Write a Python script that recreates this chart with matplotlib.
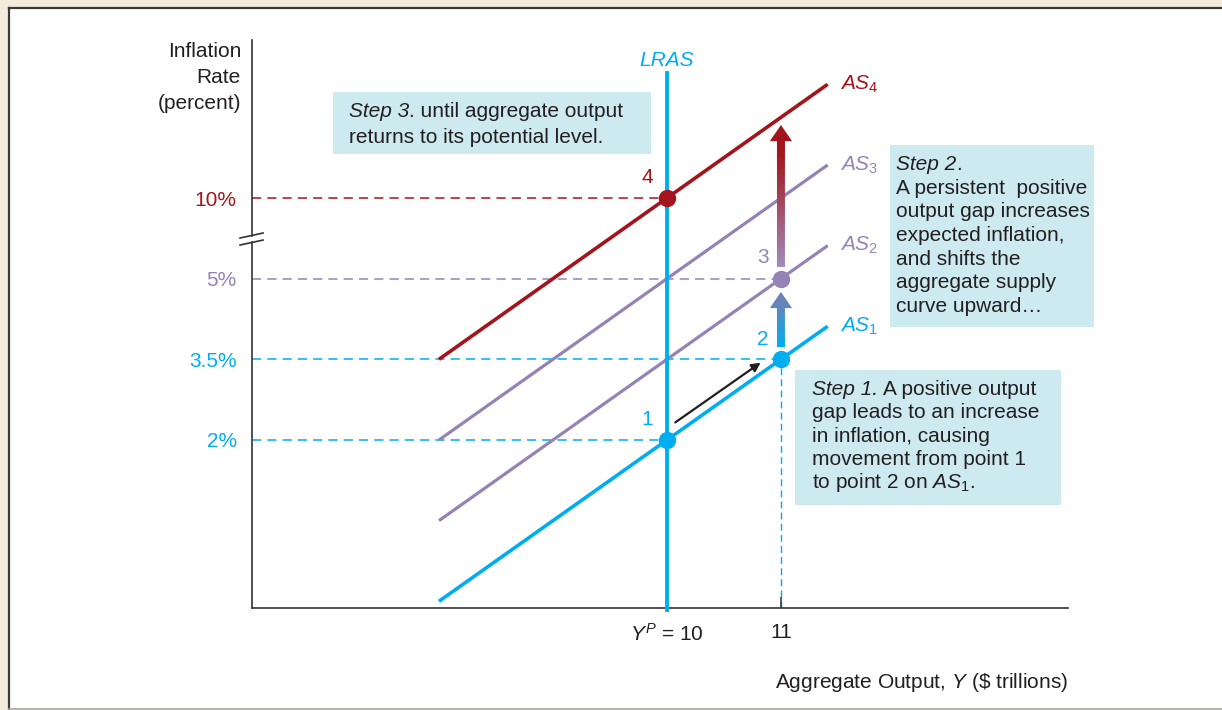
import numpy as np
import matplotlib
matplotlib.use('Agg')
import matplotlib.pyplot as plt
from matplotlib.patches import FancyArrow, Rectangle
from matplotlib.lines import Line2D
from matplotlib.colors import LinearSegmentedColormap

plt.rcParams['font.family'] = ['Liberation Sans', 'DejaVu Sans']
plt.rcParams['mathtext.fontset'] = 'custom'
plt.rcParams['mathtext.rm'] = 'Liberation Sans'
plt.rcParams['mathtext.it'] = 'Liberation Sans:italic'
plt.rcParams['mathtext.sf'] = 'Liberation Sans'

# inflation levels sit on a broken axis: positions 0..3 carry these labels
infl_labels = ['2%', '3.5%', '5%', '10%']
infl_pos = [0, 1, 2, 3]

# aggregate supply curves: level at Y = 10, slope 1 step per $1 trillion
as_names = [r'$AS_1$', r'$AS_2$', r'$AS_3$', r'$AS_4$']
as_level_at_yp = [0, 1, 2, 3]
as_x = np.array([8.0, 11.41])

y_potential = 10
y_gap = 11

# equilibrium points 1-4
pt_x = [10, 11, 11, 10]
pt_y = [0, 1, 2, 3]
pt_names = ['1', '2', '3', '4']

CYAN = '#00aeef'
PURPLE = '#9583b5'
RED = '#a3151c'
TXT = '#231f20'
BOX = '#cdeaf1'
FS = 15

W, H = 1222, 710
fig = plt.figure(figsize=(W / 100, H / 100), dpi=100)
fig.patch.set_facecolor('#f3ebdc')
renderer = fig.canvas.get_renderer()


def px(x, y):
    return x / W, 1 - y / H


# white panel with its borders
fig.add_artist(Rectangle(px(9, 709), 1, (709 - 8) / H, transform=fig.transFigure,
                         facecolor='white', edgecolor='none', zorder=-5))
fig.add_artist(Line2D([8.5 / W, 8.5 / W], [1 - 709 / H, 1 - 7.5 / H], color='#3a3a3a', lw=1.6, zorder=-4))
fig.add_artist(Line2D([8.5 / W, 1], [1 - 7.5 / H, 1 - 7.5 / H], color='#3a3a3a', lw=1.6, zorder=-4))
fig.add_artist(Line2D([8.5 / W, 1], [1 - 709 / H, 1 - 709 / H], color='#a8a8a8', lw=1.2, zorder=-4))

ax = fig.add_axes([252 / W, (H - 608) / H, 816 / W, 568 / H])
ax.set_facecolor('none')
xmin, xmax = 6.36, 13.518
ymin, ymax = -2.083, 4.959
ax.set_xlim(xmin, xmax)
ax.set_ylim(ymin, ymax)

for s in ['top', 'right', 'left']:
    ax.spines[s].set_visible(False)
ax.spines['bottom'].set_color('#333333')
ax.spines['bottom'].set_linewidth(1.2)

# left axis with break marks between 5% and 10%
ax.plot([xmin, xmin], [ymin, 2.46], color='#333333', lw=1.2, clip_on=False)
ax.plot([xmin, xmin], [2.53, ymax], color='#333333', lw=1.2, clip_on=False)
ax.plot([xmin - 0.105, xmin + 0.097], [2.504, 2.566], color='#333333', lw=1.2, clip_on=False)
ax.plot([xmin - 0.105, xmin + 0.097], [2.417, 2.479], color='#333333', lw=1.2, clip_on=False)

# dashed guide lines
dash = (0, (6, 4))
ax.plot([xmin, y_potential], [3, 3], color=RED, lw=1.1, ls=dash, zorder=1)
ax.plot([xmin, y_gap], [2, 2], color=PURPLE, lw=1.1, ls=dash, zorder=1)
ax.plot([xmin, y_gap], [1, 1], color=CYAN, lw=1.1, ls=dash, zorder=1)
ax.plot([xmin, y_potential], [0, 0], color=CYAN, lw=1.1, ls=dash, zorder=1)
ax.plot([y_gap, y_gap], [ymin, 1], color=CYAN, lw=1.0, ls=(0, (5, 3)), zorder=1)

# LRAS
ax.plot([y_potential, y_potential], [ymin - 0.03, 4.55], color=CYAN, lw=2.8, zorder=3, clip_on=False)
ax.text(y_potential, 4.71, 'LRAS', color=CYAN, fontsize=FS, style='italic', ha='center', va='center')

# AS curves
as_colors = [CYAN, PURPLE, PURPLE, RED]
for name, lev, c in zip(as_names, as_level_at_yp, as_colors):
    yy = lev + (as_x - y_potential)
    ax.plot(as_x, yy, color=c, lw=2.6 if c != PURPLE else 2.3, zorder=2, solid_capstyle='butt')
    ax.text(as_x[-1] + 0.11, yy[-1], name, color=c, fontsize=FS, ha='left', va='center')

# points and numbers
pt_colors = [CYAN, CYAN, PURPLE, RED]
pt_offsets = [(-0.17, 0.26), (-0.16, 0.25), (-0.16, 0.26), (-0.17, 0.25)]
for x, y, n, c, (dx, dy) in zip(pt_x, pt_y, pt_names, pt_colors, pt_offsets):
    ax.plot(x, y, 'o', color=c, ms=11.5, zorder=6)
    ax.text(x + dx, y + dy, n, color=c, fontsize=FS, ha='center', va='center')

# movement 1 -> 2
ax.annotate('', xy=(10.842, 0.979), xytext=(10.053, 0.198),
            arrowprops=dict(arrowstyle='-|>', color=TXT, lw=1.6, mutation_scale=13), zorder=5)


def gradient_arrow(x, y0, y1, c0, c1):
    arr = FancyArrow(x, y0, 0, y1 - y0, width=0.07, head_width=0.195, head_length=0.2,
                     length_includes_head=True, facecolor='none', edgecolor='none')
    ax.add_patch(arr)
    cmap = LinearSegmentedColormap.from_list('g', [(0, c0), (0.8, c1), (1, c1)])
    grad = np.linspace(0, 1, 256).reshape(-1, 1)
    im = ax.imshow(grad, extent=[x - 0.12, x + 0.12, y0, y1], origin='lower',
                   cmap=cmap, aspect='auto', zorder=4)
    im.set_clip_path(arr)


gradient_arrow(y_gap, 1.153, 1.835, CYAN, '#6a82b8')
gradient_arrow(y_gap, 2.145, 3.905, '#a28cba', RED)
ax.set_xlim(xmin, xmax)
ax.set_ylim(ymin, ymax)

# ticks
ax.set_xticks([y_potential, y_gap])
ax.set_xticklabels([r'$Y^P$ = 10', '11'], fontsize=FS, color=TXT)
ax.tick_params(axis='x', direction='in', length=8, width=1.1, color='#333333', pad=11)
ax.set_yticks(infl_pos)
ax.set_yticklabels(infl_labels, fontsize=FS)
for lab, c in zip(ax.get_yticklabels(), [CYAN, CYAN, PURPLE, RED]):
    lab.set_color(c)
ax.tick_params(axis='y', length=0, pad=11)

# axis titles
for t, yb in zip(['Inflation', 'Rate', '(percent)'], [56.7, 83, 109.3]):
    fig.text(*px(241, yb), t, fontsize=FS, color=TXT, ha='right', va='baseline')
fig.text(*px(1068, 688), r'Aggregate Output, $Y$ (\$ trillions)', fontsize=FS, color=TXT,
         ha='right', va='baseline')

# step boxes: each line is (italic part, plain part)
step1 = [('Step 1.', 'A positive output'), ('', 'gap leads to an increase'),
         ('', 'in inflation, causing'), ('', 'movement from point 1'), ('', r'to point 2 on $AS_1$.')]
step2 = [('Step 2', '.'), ('', 'A persistent  positive'), ('', 'output gap increases'),
         ('', 'expected inflation,'), ('', 'and shifts the'), ('', 'aggregate supply'),
         ('', 'curve upward\u2026')]
step3 = [('Step 3', '. until aggregate output'), ('', 'returns to its potential level.')]


def step_box(x0, y0, x1, y1, tx, base, gap, lines):
    fig.add_artist(Rectangle(px(x0, y1), (x1 - x0) / W, (y1 - y0) / H, transform=fig.transFigure,
                             facecolor=BOX, edgecolor='none', zorder=2))
    for i, (it, plain) in enumerate(lines):
        yb = base + i * gap
        xx = tx
        if it:
            t = fig.text(*px(xx, yb), it, fontsize=FS, style='italic', color=TXT,
                         ha='left', va='baseline', zorder=3)
            xx += t.get_window_extent(renderer).width
            if not plain.startswith('.'):
                xx += 5
        fig.text(*px(xx, yb), plain, fontsize=FS, color=TXT, ha='left', va='baseline', zorder=3)


step_box(333, 92, 651, 154, 349, 117.3, 25.3, step3)
step_box(890, 145, 1094, 327, 896, 170, 23.7, step2)
step_box(795, 370, 1061, 505, 812, 395, 23.3, step1)

fig.savefig('out.png', dpi=100, facecolor=fig.get_facecolor())
